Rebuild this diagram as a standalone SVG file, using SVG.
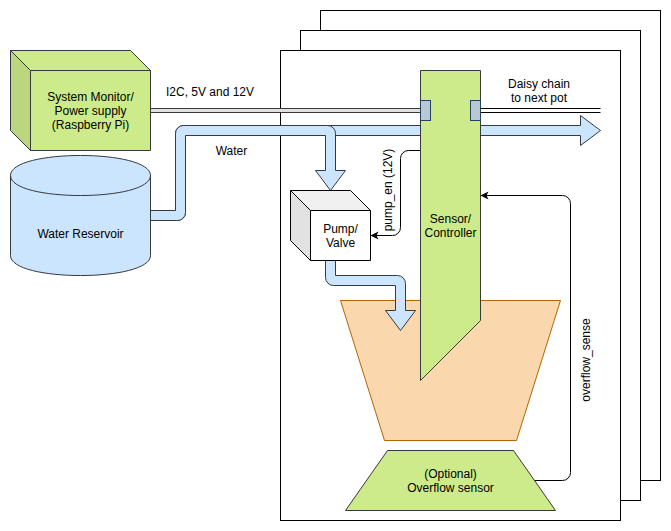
<svg xmlns="http://www.w3.org/2000/svg" width="671" height="531" viewBox="0 0 671 531">
<style>
text{font-family:"Liberation Sans",Arial,sans-serif;font-size:12px;fill:#000;text-anchor:middle}
.pot{fill:#fff;stroke:#000}
.green{fill:#cdeb8b;stroke:#36393d}
.greend{fill:#bbd67f;stroke:#36393d}
.blue{fill:#cce5ff;stroke:#36393d}
.port{fill:#bac8d3;stroke:#23445d}
.line{fill:none;stroke:#000}
</style>
<defs>
<marker id="arrow" markerWidth="9" markerHeight="9" refX="7.5" refY="4" orient="auto" markerUnits="userSpaceOnUse" viewBox="0 0 9 8"><path d="M0 0L8 4L0 8L2 4Z" fill="#000"/></marker>
</defs>
<g id="pot-back"><rect class="pot" x="320.5" y="10.5" width="340" height="470"/></g>
<g id="pot-middle"><rect class="pot" x="300.5" y="30.5" width="340" height="470"/></g>
<g id="pot-front"><rect class="pot" x="280.5" y="50.5" width="340" height="470"/></g>
<g id="soil"><path d="M340.5 300.5H560.5L516.5 440.5H384.5Z" fill="#fad7ac" stroke="#b46504"/></g>
<g id="connectors">
<path d="M150.5 210.5H175.5V133.5A8 8 0 0 1 183.5 125.5H580.5V115.5L600.5 130.5L580.5 145.5V135.5H185.5V212.5A8 8 0 0 1 177.5 220.5H150.5Z" class="blue"/>
<path d="M150.5 210.5H175.5V133.5A8 8 0 0 1 183.5 125.5H327.5A8 8 0 0 1 335.5 133.5V170.5H345.5L330.5 190.5L315.5 170.5H325.5V135.5H185.5V212.5A8 8 0 0 1 177.5 220.5H150.5Z" class="blue"/>
<path d="M325.5 260.5V277.5A8 8 0 0 0 333.5 285.5H395.5V310.5H385.5L400.5 330.5L415.5 310.5H405.5V283.5A8 8 0 0 0 397.5 275.5H335.5V260.5Z" class="blue"/>
<path d="M150.5 110.5H420.5" fill="none" stroke="#36393d" stroke-width="5"/>
<path d="M150 110.5H421" fill="none" stroke="#fff" stroke-opacity=".85" stroke-width="3"/>
<path d="M480.5 110.5H600.5" fill="none" stroke="#000" stroke-width="5"/>
<path d="M480 110.5H601" fill="none" stroke="#fff" stroke-width="3"/>
<path class="line" d="M420.5 150.5H408.5A8 8 0 0 0 400.5 158.5V227.5A8 8 0 0 1 392.5 235.5H371" marker-end="url(#arrow)"/>
<path class="line" d="M534.5 480.5H562.5A8 8 0 0 0 570.5 472.5V203.5A8 8 0 0 0 562.5 195.5H481" marker-end="url(#arrow)"/>
</g>
<g id="system-monitor">
<path class="green" d="M30.5 70.5H150.5V150.5H30.5Z"/>
<path class="green" d="M10.5 50.5H130.5L150.5 70.5H30.5Z"/>
<path class="greend" d="M10.5 50.5L30.5 70.5V150.5L10.5 130.5Z"/>
<text x="90.5" y="101">System Monitor/</text><text x="90.5" y="115">Power supply</text><text x="90.5" y="129">(Raspberry Pi)</text>
</g>
<g id="water-reservoir">
<path class="blue" d="M10.5 175.5C10.5 148.8 150.5 148.8 150.5 175.5V255.5C150.5 282.2 10.5 282.2 10.5 255.5Z"/>
<path fill="none" stroke="#36393d" d="M10.5 175.5C10.5 202.2 150.5 202.2 150.5 175.5"/>
<text x="80.5" y="238">Water Reservoir</text>
</g>
<g id="pump">
<path d="M310.5 210.5H370.5V260.5H310.5Z" fill="#fff" stroke="#000"/>
<path d="M290.5 190.5H350.5L370.5 210.5H310.5Z" fill="#f0f0f0" stroke="#000"/>
<path d="M290.5 190.5L310.5 210.5V260.5L290.5 240.5Z" fill="#e2e2e2" stroke="#000"/>
<text x="340.5" y="233">Pump/</text><text x="340.5" y="247">Valve</text>
</g>
<g id="sensor">
<path class="green" d="M420.5 70.5H480.5V320.5L420.5 380.5Z"/>
<rect class="port" x="420.5" y="100.5" width="10" height="20"/>
<rect class="port" x="470.5" y="100.5" width="10" height="20"/>
<text x="450.5" y="223">Sensor/</text><text x="450.5" y="237">Controller</text>
</g>
<g id="overflow-sensor">
<path class="green" d="M345.5 510.5L387.5 450.5H513.5L555.5 510.5Z"/>
<text x="450.5" y="478">(Optional)</text><text x="450.5" y="492">Overflow sensor</text>
</g>
<g id="labels">
<text x="210" y="96">I2C, 5V and 12V</text>
<text x="231.5" y="155">Water</text>
<text x="539" y="88">Daisy chain</text><text x="539" y="102">to next pot</text>
<text transform="translate(392 190) rotate(-90)">pump_en (12V)</text>
<text transform="translate(590 360) rotate(-90)">overflow_sense</text>
</g>
</svg>
